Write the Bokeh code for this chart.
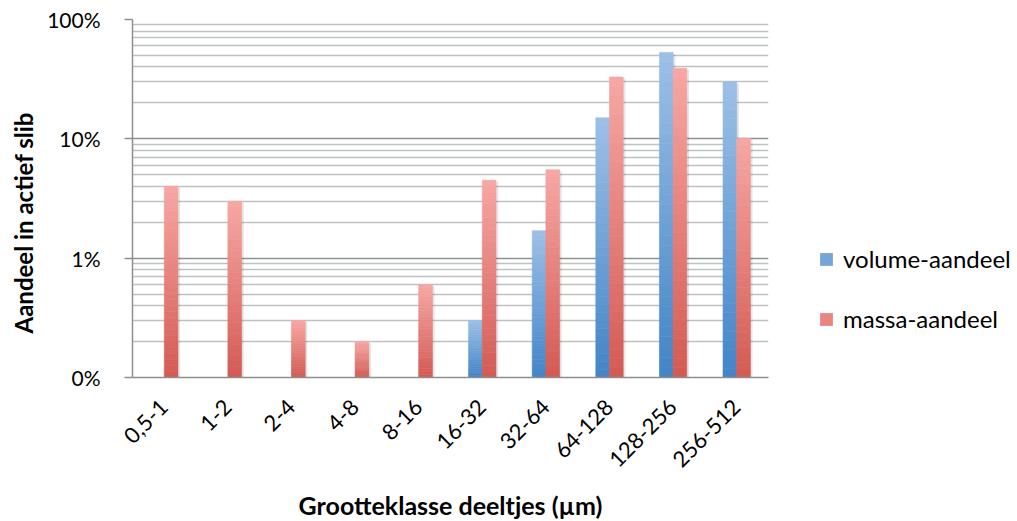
import math
from bokeh.plotting import figure
from bokeh.layouts import row
from bokeh.models import (ColumnDataSource, FactorRange, Range1d, FixedTicker,
                          CustomJSTickFormatter, Legend, LegendItem, Title)
from bokeh.transform import dodge
from bokeh.embed import file_html
from bokeh.resources import INLINE

# ---------------- data ----------------
categories = ["0,5-1", "1-2", "2-4", "4-8", "8-16", "16-32", "32-64",
              "64-128", "128-256", "256-512"]
volume_aandeel = [0, 0, 0, 0, 0, 0.3, 1.7, 15, 53, 30]        # percent
massa_aandeel = [4, 3, 0.3, 0.2, 0.6, 4.5, 5.5, 33, 39, 10.1]  # percent
series_names = ["volume-aandeel", "massa-aandeel"]
y_ticks = [0.1, 1, 10, 100]
y_tick_labels = ["0%", "1%", "10%", "100%"]
x_title = "Grootteklasse deeltjes (µm)"
y_title = "Aandeel in actief slib"

# ---------------- style ----------------
Y_MIN, Y_MAX = 0.1, 100
FONT = "Lato"
BAR_W = 0.215
N_SEG = 32
BLUE_TOP, BLUE_BOT = (157, 192, 230), (66, 132, 199)
RED_TOP, RED_BOT = (247, 167, 164), (211, 90, 83)
BLUE_MID, RED_MID = "#76a3d8", "#e98581"

FRAME_W, FRAME_H = 636, 358
PX_PER_DECADE = FRAME_H / (math.log10(Y_MAX) - math.log10(Y_MIN))


def hexcol(c):
    return "#%02x%02x%02x" % tuple(int(round(v)) for v in c)


def gradient_source(values, c_bot, c_top):
    xs, bots, tops, cols = [], [], [], []
    lb = math.log10(Y_MIN)
    for cat, v in zip(categories, values):
        if v <= 0:
            continue
        lt = math.log10(v)
        for k in range(N_SEG):
            b = 10 ** (lb + (lt - lb) * k / N_SEG)
            t = 10 ** (lb + (lt - lb) * (k + 1) / N_SEG)
            f = (k + 0.5) / N_SEG
            col = [c_bot[i] + (c_top[i] - c_bot[i]) * f for i in range(3)]
            xs.append(cat)
            bots.append(b)
            tops.append(t)
            cols.append(hexcol(col))
    return ColumnDataSource(dict(x=xs, bottom=bots, top=tops, color=cols))


def shadow_source(values, shift_px):
    xs, tops = [], []
    for cat, v in zip(categories, values):
        if v <= 0:
            continue
        xs.append(cat)
        tops.append(v * 10 ** (-shift_px / PX_PER_DECADE))
    return ColumnDataSource(dict(x=xs, top=tops))


LEFT, RIGHT, TOP, BOTTOM = 131, 10, 19, 144
p = figure(frame_width=FRAME_W, frame_height=FRAME_H,
           x_range=FactorRange(*categories),
           y_range=Range1d(Y_MIN, Y_MAX),
           y_axis_type="log",
           output_backend="svg", toolbar_location=None,
           min_border_left=LEFT, min_border_right=RIGHT,
           min_border_top=TOP, min_border_bottom=BOTTOM)
p.outline_line_color = None
p.background_fill_color = "white"
p.border_fill_color = "white"

# grid
minor = [m * d for d in (0.1, 1, 10) for m in range(2, 10)]
ticker = FixedTicker(ticks=y_ticks, minor_ticks=minor)
p.yaxis.ticker = ticker
p.ygrid.ticker = ticker
p.xgrid.grid_line_color = None
p.ygrid.grid_line_color = "#8f9194"
p.ygrid.grid_line_width = 1.5
p.ygrid.minor_grid_line_color = "#bec1c4"
p.ygrid.minor_grid_line_width = 1.3

# shadows
for vals, off in ((volume_aandeel, -BAR_W / 2), (massa_aandeel, BAR_W / 2)):
    s = shadow_source(vals, 1.5)
    p.vbar(x=dodge("x", off + 0.035, range=p.x_range), top="top", bottom=Y_MIN,
           width=BAR_W, source=s, fill_color="#000000", fill_alpha=0.10,
           line_color=None)

# bars (gradient built from stacked slices of each bar)
src_v = gradient_source(volume_aandeel, BLUE_BOT, BLUE_TOP)
src_m = gradient_source(massa_aandeel, RED_BOT, RED_TOP)
p.vbar(x=dodge("x", -BAR_W / 2, range=p.x_range), top="top", bottom="bottom",
       width=BAR_W, source=src_v, fill_color="color", line_color="color",
       line_width=0.6)
p.vbar(x=dodge("x", BAR_W / 2, range=p.x_range), top="top", bottom="bottom",
       width=BAR_W, source=src_m, fill_color="color", line_color="color",
       line_width=0.6)

# axes
p.yaxis.formatter = CustomJSTickFormatter(
    args=dict(tick_vals=y_ticks, tick_labs=y_tick_labels),
    code="""
    for (let i = 0; i < tick_vals.length; i++) {
        if (Math.abs(tick_vals[i] - tick) < 1e-9 * tick_vals[i]) return tick_labs[i];
    }
    return "";
    """)
p.yaxis.axis_line_color = "#8e8e8e"
p.yaxis.axis_line_width = 1.5
p.yaxis.major_tick_line_color = "#8e8e8e"
p.yaxis.major_tick_line_width = 1.5
p.yaxis.major_tick_out = 8
p.yaxis.major_tick_in = 0
p.yaxis.minor_tick_line_color = None
p.yaxis.major_label_standoff = 24
p.yaxis.major_label_text_font = FONT
p.yaxis.major_label_text_font_size = "21px"
p.yaxis.major_label_text_color = "black"

ytitle = Title(text=y_title, align="left", offset=44, standoff=13,
               text_font=FONT, text_font_style="bold", text_font_size="24px",
               text_color="black")
p.add_layout(ytitle, "left")

p.xaxis.axis_line_color = "#8e8e8e"
p.xaxis.axis_line_width = 1.5
p.xaxis.major_tick_line_color = None
p.xaxis.minor_tick_line_color = None
p.xaxis.major_label_orientation = math.pi / 4
p.xaxis.major_label_standoff = 20
p.xaxis.major_label_text_font = FONT
p.xaxis.major_label_text_font_size = "22px"
p.xaxis.major_label_text_color = "black"
p.xaxis.axis_label = x_title
p.xaxis.axis_label_text_font = FONT
p.xaxis.axis_label_text_font_style = "bold"
p.xaxis.axis_label_text_font_size = "25px"
p.xaxis.axis_label_text_color = "black"
p.xaxis.axis_label_standoff = 13

# legend panel (separate figure to the right of the chart)
LEG_W = 1017 - (LEFT + FRAME_W + RIGHT)
q = figure(frame_width=LEG_W, frame_height=FRAME_H, output_backend="svg",
           toolbar_location=None, x_axis_location=None, y_axis_location=None,
           x_range=Range1d(1, 2), y_range=Range1d(1, 2),
           min_border_left=0, min_border_right=0,
           min_border_top=TOP, min_border_bottom=BOTTOM)
q.outline_line_color = None
q.grid.visible = False
q.border_fill_color = "white"
lv = q.vbar(x=[0], top=[0], width=0.5, fill_color=BLUE_MID, line_color=None)
lm = q.vbar(x=[0], top=[0], width=0.5, fill_color=RED_MID, line_color=None)

legend = Legend(items=[
    LegendItem(label=series_names[0], renderers=[lv], index=0),
    LegendItem(label=series_names[1], renderers=[lm], index=0),
], location=(817 - (LEFT + FRAME_W + RIGHT), 44), orientation="vertical")
legend.border_line_color = None
legend.background_fill_alpha = 0
legend.padding = 0
legend.margin = 0
legend.spacing = 31
legend.glyph_width = 16
legend.glyph_height = 16
legend.label_height = 24
legend.label_standoff = 9
legend.label_text_font = FONT
legend.label_text_font_size = "24px"
legend.label_text_color = "black"
q.add_layout(legend, "center")

layout = row(p, q, spacing=0)
open("out.html", "w").write(file_html(layout, INLINE))
